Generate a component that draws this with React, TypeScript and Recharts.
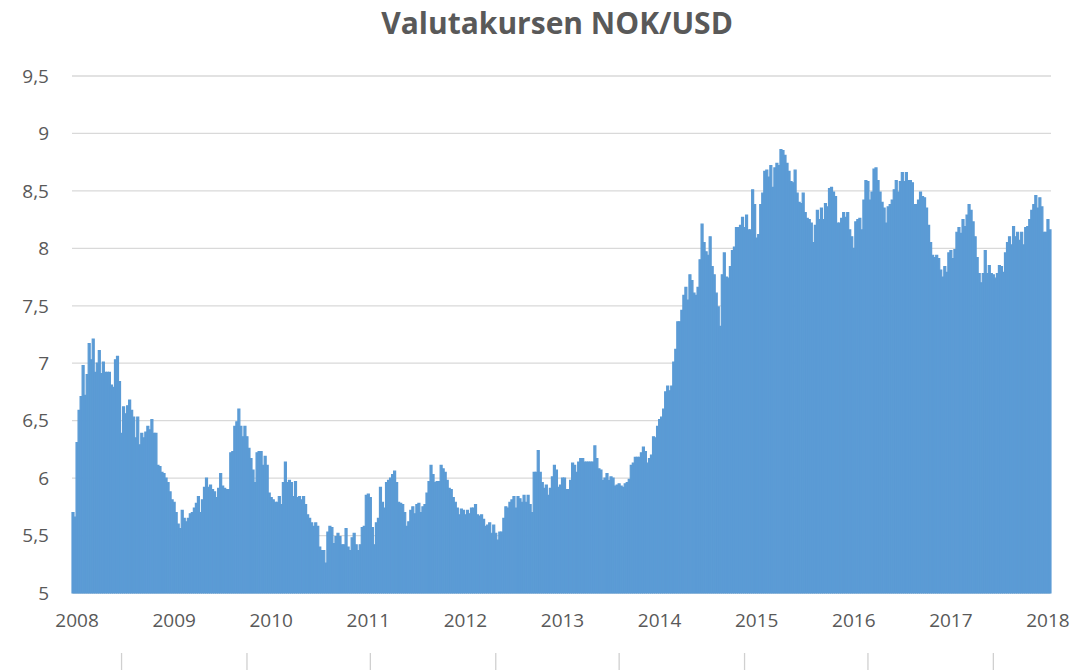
import React from "react";
import { BarChart, Bar, XAxis, YAxis, CartesianGrid } from "recharts";

// NOK per USD, roughly weekly readings (48 per year)
const rate2007 = [5.7, 5.66];
const rate2008 = [
  6.31, 6.59, 6.71, 6.98, 6.72, 6.9, 7.17, 7.03,
  7.21, 6.92, 7.0, 7.11, 6.91, 7.01, 6.92, 6.92, 6.92, 6.81,
  6.79, 7.03, 7.06, 6.84, 6.39, 6.62, 6.56, 6.63, 6.68, 6.59,
  6.53, 6.35, 6.53, 6.29, 6.39, 6.35, 6.4, 6.45, 6.42, 6.51,
  6.39, 6.39, 6.11, 6.1, 6.05, 6.04, 6.0, 5.96, 5.88, 5.81,
];
const rate2009 = [
  5.79, 5.7, 5.6, 5.56, 5.72, 5.65, 5.62, 5.65, 5.69, 5.7,
  5.74, 5.78, 5.84, 5.7, 5.81, 5.92, 6.0, 5.92, 5.94, 5.9,
  5.88, 5.83, 5.91, 6.04, 5.93, 5.91, 5.9, 5.9, 6.22, 6.23,
  6.45, 6.49, 6.6, 6.45, 6.36, 6.45, 6.36, 6.26, 6.17, 6.07,
  5.96, 6.22, 6.23, 6.23, 6.11, 6.19, 6.11, 5.87,
];
const rate2010 = [
  5.83, 5.81,
  5.79, 5.79, 5.84, 5.77, 5.96, 6.14, 5.96, 5.98, 5.96, 5.84,
  5.97, 5.83, 5.84, 5.81, 5.84, 5.77, 5.68, 5.65, 5.61, 5.58,
  5.61, 5.58, 5.4, 5.37, 5.37, 5.26, 5.53, 5.58, 5.57, 5.43,
  5.49, 5.52, 5.49, 5.42, 5.42, 5.56, 5.4, 5.37, 5.48, 5.52,
  5.42, 5.37, 5.42, 5.57, 5.58, 5.85,
];
const rate2011 = [
  5.86, 5.83, 5.57, 5.42,
  5.61, 5.65, 5.92, 5.79, 5.74, 5.96, 5.98, 6.0, 6.03, 6.06,
  5.96, 5.79, 5.78, 5.77, 5.7, 5.58, 5.62, 5.72, 5.75, 5.69,
  5.77, 5.78, 5.7, 5.75, 5.77, 5.87, 5.97, 6.11, 6.03, 5.96,
  5.97, 5.97, 6.11, 6.08, 6.05, 5.98, 5.91, 5.9, 5.83, 5.79,
  5.74, 5.68, 5.73, 5.72,
];
const rate2012 = [
  5.68, 5.72, 5.69, 5.74, 5.74, 5.77,
  5.68, 5.67, 5.68, 5.64, 5.58, 5.59, 5.61, 5.52, 5.59, 5.52,
  5.46, 5.53, 5.53, 5.65, 5.75, 5.74, 5.79, 5.81, 5.84, 5.74,
  5.84, 5.82, 5.79, 5.85, 5.79, 5.85, 5.77, 5.7, 6.05, 6.05,
  6.24, 6.05, 5.96, 5.91, 5.94, 5.85, 5.91, 6.01, 6.11, 6.07,
  5.92, 5.94,
];
const rate2013 = [
  6.0, 6.0, 5.9, 5.9, 5.98, 6.13, 6.11, 6.05,
  6.14, 6.17, 6.17, 6.14, 6.14, 6.14, 6.14, 6.14, 6.28, 6.17,
  6.08, 6.07, 5.98, 6.0, 6.04, 5.98, 6.01, 6.0, 5.93, 5.94,
  5.95, 5.93, 5.92, 5.95, 5.96, 5.99, 6.11, 6.13, 6.18, 6.18,
  6.18, 6.22, 6.27, 6.23, 6.13, 6.17, 6.2, 6.36, 6.35, 6.45,
];
const rate2014 = [
  6.51, 6.53, 6.6, 6.75, 6.8, 6.76, 6.8, 7.01, 7.12, 7.36,
  7.36, 7.46, 7.59, 7.66, 7.55, 7.77, 7.72, 7.61, 7.59, 7.66,
  7.9, 8.21, 8.05, 7.97, 7.94, 8.1, 7.84, 7.77, 7.61, 7.49,
  7.32, 7.77, 7.96, 7.75, 7.74, 7.84, 7.98, 8.01, 8.18, 8.18,
  8.2, 8.27, 8.18, 8.29, 8.16, 8.16, 8.51, 8.38,
];
const rate2015 = [
  8.09, 8.12,
  8.38, 8.48, 8.67, 8.68, 8.62, 8.72, 8.53, 8.7, 8.74, 8.72,
  8.86, 8.85, 8.81, 8.74, 8.67, 8.58, 8.57, 8.68, 8.48, 8.4,
  8.39, 8.48, 8.31, 8.26, 8.25, 8.22, 8.05, 8.2, 8.33, 8.25,
  8.35, 8.25, 8.39, 8.36, 8.52, 8.53, 8.49, 8.45, 8.22, 8.22,
  8.26, 8.31, 8.27, 8.31, 8.16, 8.1,
];
const rate2016 = [
  8.0, 8.23, 8.25, 8.26,
  8.16, 8.42, 8.59, 8.58, 8.42, 8.49, 8.69, 8.7, 8.59, 8.49,
  8.4, 8.35, 8.22, 8.36, 8.38, 8.42, 8.51, 8.59, 8.49, 8.58,
  8.66, 8.58, 8.66, 8.59, 8.59, 8.57, 8.38, 8.38, 8.42, 8.49,
  8.45, 8.44, 8.35, 8.2, 8.05, 7.94, 7.92, 7.94, 7.91, 7.81,
  7.75, 7.84, 7.79, 7.96,
];
const rate2017 = [
  7.98, 7.91, 7.99, 8.14, 8.18, 8.13,
  8.25, 8.19, 8.29, 8.38, 8.33, 8.23, 8.1, 7.92, 7.78, 7.7,
  7.78, 7.98, 7.78, 7.85, 7.78, 7.77, 7.74, 7.78, 7.85, 7.84,
  7.79, 7.96, 8.05, 8.1, 8.03, 8.19, 8.1, 8.14, 8.07, 8.14,
  8.03, 8.18, 8.19, 8.25, 8.33, 8.38, 8.46, 8.35, 8.44, 8.36,
  8.14, 8.14,
];
const rate2018 = [8.25, 8.16];

const yearLabels = ["2008", "2009", "2010", "2011", "2012", "2013", "2014", "2015", "2016", "2017", "2018"];
const yTicks = [5, 5.5, 6, 6.5, 7, 7.5, 8, 8.5, 9, 9.5];
// periods that carry the faint secondary tick marks below the year labels
const markPeriods = ["2008-23", "2009-37", "2011-2", "2012-16", "2013-29", "2014-43", "2016-8", "2017-22"];

const seriesByYear: [number, number[]][] = [
  [2007, rate2007], [2008, rate2008], [2009, rate2009], [2010, rate2010],
  [2011, rate2011], [2012, rate2012], [2013, rate2013], [2014, rate2014],
  [2015, rate2015], [2016, rate2016], [2017, rate2017], [2018, rate2018],
];

const data: { period: string; rate: number }[] = [];
seriesByYear.forEach(([year, vals]) => {
  vals.forEach((v, i) => {
    const week = year === 2007 ? 49 - vals.length + i : i + 1;
    data.push({ period: `${year}-${week}`, rate: v });
  });
});
const yearTickKeys = yearLabels.map((y) => `${y}-1`);

const TEXT = "#595959";
const FONT = "'Open Sans', 'Liberation Sans', sans-serif";

const YearTick = (props: any) => {
  const { x, y, payload } = props;
  const idx = yearTickKeys.indexOf(payload.value);
  if (idx < 0) return <g />;
  return (
    <text x={x} y={y} dy="0.71em" textAnchor="middle" fill={TEXT} fontSize={19} fontFamily={FONT}>
      {yearLabels[idx]}
    </text>
  );
};

const MarkTick = (props: any) => {
  const { x, y, payload } = props;
  if (markPeriods.indexOf(payload.value) < 0) return <g />;
  return <line x1={x} x2={x} y1={y} y2={y + 17} stroke="#d0d0d0" strokeWidth={1.3} />;
};

export default function App() {
  return (
    <div style={{ position: "absolute", left: 0, top: 0, width: 1089, height: 670, background: "#fff" }}>
      <div
        style={{
          position: "absolute",
          left: 0,
          top: 8,
          width: 1114,
          textAlign: "center",
          fontFamily: FONT,
          fontWeight: 700,
          fontSize: 30,
          lineHeight: "30px",
          color: TEXT,
        }}
      >
        Valutakursen NOK/USD
      </div>
      <BarChart
        width={1089}
        height={670}
        data={data}
        margin={{ top: 76, right: 38, bottom: 0, left: 0 }}
        barCategoryGap={0}
        barGap={0}
        style={{ fontFamily: FONT }}
      >
        <CartesianGrid vertical={false} stroke="#d9d9d9" strokeWidth={1.3} />
        <XAxis
          dataKey="period"
          interval={0}
          tick={<YearTick />}
          tickLine={false}
          axisLine={false}
          tickSize={6}
          tickMargin={15}
          height={60}
        />
        <XAxis
          xAxisId="marks"
          dataKey="period"
          interval={0}
          tick={<MarkTick />}
          tickLine={false}
          axisLine={false}
          tickSize={0}
          tickMargin={0}
          height={17}
        />
        <YAxis
          domain={[5, 9.5]}
          ticks={yTicks}
          interval={0}
          axisLine={false}
          tickLine={false}
          tickSize={6}
          tickMargin={17}
          width={72}
          tick={{ fill: TEXT, fontSize: 19, fontFamily: FONT }}
          tickFormatter={(v: number) => String(v).replace(".", ",")}
        />
        <Bar dataKey="rate" fill="#5b9bd5" stroke="#5b9bd5" strokeWidth={1.2} isAnimationActive={false} />
      </BarChart>
    </div>
  );
}
